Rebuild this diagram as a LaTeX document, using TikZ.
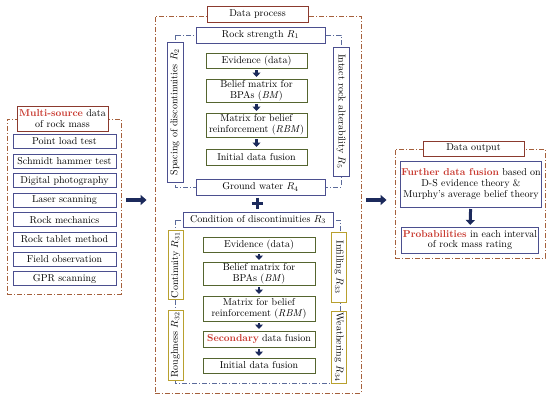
\documentclass[tikz,border=0pt]{standalone}
\usetikzlibrary{arrows.meta}

\definecolor{groupline}{HTML}{A5603C}
\definecolor{titleline}{HTML}{8B3A2E}
\definecolor{blueline}{HTML}{4B4F8F}
\definecolor{dashblue}{HTML}{5A6A9A}
\definecolor{greenline}{HTML}{55652F}
\definecolor{yellowline}{HTML}{B8A02E}
\definecolor{navy}{HTML}{1C2A5C}
\definecolor{hlred}{HTML}{C8372D}

\begin{document}
\begin{tikzpicture}[x=1pt, y=-1pt, font=\fontsize{10}{10.8}\selectfont,
    groupbox/.style={draw=groupline, line width=0.9pt, dash pattern=on 5pt off 2pt on 1pt off 2pt, inner sep=0pt},
    titlebox/.style={draw=titleline, line width=1pt, fill=white, align=center, inner sep=1pt},
    bluebox/.style={draw=blueline, line width=1pt, fill=white, align=center, inner sep=1pt},
    greenbox/.style={draw=greenline, line width=1pt, fill=white, align=center, inner sep=1pt},
    yellowbox/.style={draw=yellowline, line width=1pt, fill=white, align=center, inner sep=1pt, minimum height=15},
    innerdash/.style={draw=dashblue, line width=0.8pt, dash pattern=on 5pt off 2pt on 1pt off 2pt},
    bigarrow/.style={navy, line width=3.5pt, -{Triangle[width=10pt,length=6pt]}},
    smallarrow/.style={navy, line width=2.8pt, -{Triangle[width=8pt,length=4.5pt]}, shorten <=1.5pt, shorten >=1.5pt}]

    \useasboundingbox (0,0) rectangle (550,400);

    % Left group: sources of data
    \node[groupbox, minimum width=114, minimum height=175] (src) at (64,206.5) {};
    \node[titlebox, minimum width=91, minimum height=25] (srctitle) at (62.5,118.5)
        {\textcolor{hlred}{\textbf{Multi-source}} data\\of rock mass};
    \foreach \txt [count=\i] in {Point load test, Schmidt hammer test, Digital photography,
        Laser scanning, Rock mechanics, Rock tablet method, Field observation, GPR scanning}
        \node[bluebox, minimum width=103, minimum height=14] (src\i) at (64.5, {141.5+19.6*(\i-1)}) {\txt};

    % Middle group: data process
    \node[groupbox, minimum width=206, minimum height=377] (proc) at (258,204.5) {};
    \node[titlebox, minimum width=101, minimum height=16] (proctitle) at (257.5,14) {Data process};

    % upper part
    \draw[innerdash] (175,35) rectangle (341,187);
    \node[bluebox, minimum width=129, minimum height=16] (strength) at (260.5,35) {Rock strength $R_1$};
    \node[bluebox, minimum width=129, minimum height=16] (water) at (260.5,187) {Ground water $R_4$};
    \node[bluebox, rotate=90, minimum width=140, minimum height=16] (spacing) at (175,112)
        {Spacing of discontinuities $R_2$};
    \node[bluebox, rotate=-90, minimum width=129, minimum height=16] (intact) at (341,111.5)
        {Intact rock alterability $R_5$};

    \node[greenbox, minimum width=101, minimum height=15] (evA) at (256.5,60.5) {Evidence (data)};
    \node[greenbox, minimum width=101, minimum height=23] (bmA) at (256.5,90.5) {Belief matrix for\\BPAs (\textit{BM})};
    \node[greenbox, minimum width=101, minimum height=24] (rbmA) at (256.5,125) {Matrix for belief\\reinforcement (\textit{RBM})};
    \node[greenbox, minimum width=101, minimum height=16] (initA) at (256.5,157) {Initial data fusion};
    \draw[smallarrow] (evA) -- (bmA);
    \draw[smallarrow] (bmA) -- (rbmA);
    \draw[smallarrow] (rbmA) -- (initA);

    % plus sign
    \draw[navy, line width=3pt] (251.5,203) -- (262.5,203) (257,197.5) -- (257,208.5);

    % lower part
    \draw[innerdash] (175,220) rectangle (340,383);
    \node[bluebox, minimum width=150, minimum height=15] (condition) at (258,219.5)
        {Condition of discontinuities $R_3$};
    \node[yellowbox, rotate=90, minimum width=66] (continuity) at (175.5,265) {Continuity $R_{31}$};
    \node[yellowbox, rotate=90, minimum width=70] (roughness) at (175.5,345) {Roughness $R_{32}$};
    \node[yellowbox, rotate=-90, minimum width=70] (infilling) at (339,267) {Infilling $R_{33}$};
    \node[yellowbox, rotate=-90, minimum width=72] (weathering) at (339,347) {Weathering $R_{34}$};

    \node[greenbox, minimum width=112, minimum height=15] (evB) at (259,244.5) {Evidence (data)};
    \node[greenbox, minimum width=112, minimum height=23] (bmB) at (259,273.5) {Belief matrix for\\BPAs (\textit{BM})};
    \node[greenbox, minimum width=112, minimum height=25] (rbmB) at (259,308.5) {Matrix for belief\\reinforcement (\textit{RBM})};
    \node[greenbox, minimum width=112, minimum height=16] (secB) at (259,339)
        {\textcolor{hlred}{\textbf{Secondary}} data fusion};
    \node[greenbox, minimum width=112, minimum height=15] (initB) at (259,365.5) {Initial data fusion};
    \draw[smallarrow] (evB) -- (bmB);
    \draw[smallarrow] (bmB) -- (rbmB);
    \draw[smallarrow] (rbmB) -- (secB);
    \draw[smallarrow] (secB) -- (initB);

    % Right group: data output
    \node[groupbox, minimum width=150, minimum height=109] (out) at (470,203.5) {};
    \node[titlebox, minimum width=101, minimum height=15] (outtitle) at (473.5,148.5) {Data output};
    \node[bluebox, minimum width=140, minimum height=46] (further) at (471,184)
        {\textcolor{hlred}{\textbf{Further data fusion}} based on\\D-S evidence theory \&\\Murphy's average belief theory};
    \node[bluebox, minimum width=134, minimum height=26] (prob) at (470,240)
        {\textcolor{hlred}{\textbf{Probabilities}} in each interval\\of rock mass rating};
    \draw[smallarrow, line width=3pt, -{Triangle[width=9pt,length=5pt]}] (further) -- (prob);

    % arrows between the groups
    \coordinate (level) at (0,200);
    \draw[bigarrow, shorten <=5pt, shorten >=8pt] (src.east |- level) -- (proc.west |- level);
    \draw[bigarrow, shorten <=5pt, shorten >=8pt] (proc.east |- level) -- (out.west |- level);
\end{tikzpicture}
\end{document}
